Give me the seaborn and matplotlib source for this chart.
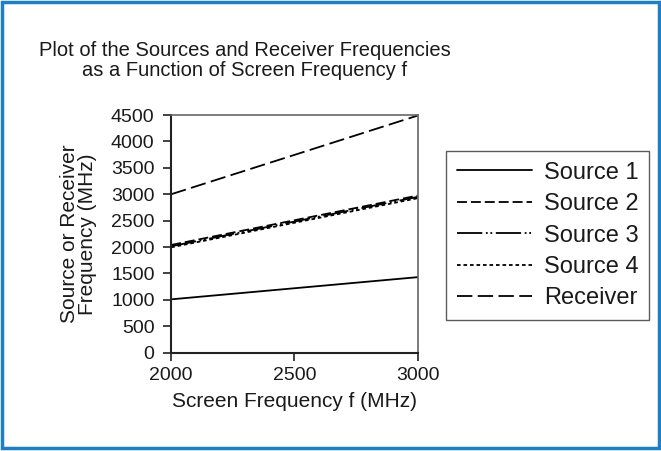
"""Sources and receiver frequencies vs screen frequency."""

import matplotlib
matplotlib.use("Agg")
import matplotlib.pyplot as plt
from matplotlib.patches import Rectangle
import seaborn as sns
import pandas as pd

screen_freq = [2000, 3000]
source_1 = [1010, 1430]
source_2 = [2040, 2975]
source_3 = [2015, 2950]
source_4 = [1995, 2925]
receiver = [3000, 4490]

series_names = ["Source 1", "Source 2", "Source 3", "Source 4", "Receiver"]
series_values = [source_1, source_2, source_3, source_4, receiver]

y_ticks = list(range(0, 4501, 500))
x_ticks = [2000, 2500, 3000]

sns.set_theme(style="white")
plt.rcParams["font.family"] = ["Liberation Sans", "DejaVu Sans"]
plt.rcParams["text.color"] = "#1a1a1a"
plt.rcParams["axes.labelcolor"] = "#1a1a1a"

# long-form table for seaborn
rows = []
for name, vals in zip(series_names, series_values):
    for f, v in zip(screen_freq, vals):
        rows.append({"f": f, "value": v, "series": name})
df = pd.DataFrame(rows)

dash_map = {
    "Source 1": "",
    "Source 2": (5.5, 2.2),
    "Source 3": (14, 2, 1, 1.5, 1, 2),
    "Source 4": (2, 1.6),
    "Receiver": (8.5, 3),
}

fig = plt.figure(figsize=(6.61, 4.51), dpi=100)
ax = fig.add_axes([0.259, 0.218, 0.373, 0.527])

sns.lineplot(
    data=df, x="f", y="value", style="series", dashes=dash_map,
    color="black", linewidth=1.3, ax=ax, legend=True,
)

ax.set_xlim(2000, 3000)
ax.set_ylim(0, 4500)
ax.set_xticks(x_ticks)
ax.set_yticks(y_ticks)
ax.tick_params(axis="both", direction="out", length=6, width=1.2,
               colors="#222222", labelsize=14, left=True, bottom=True,
               labelcolor="#1a1a1a")
ax.tick_params(axis="y", pad=6)
ax.tick_params(axis="x", pad=4)
for spine in ax.spines.values():
    spine.set_color("#666666")
    spine.set_linewidth(1.2)
ax.spines["left"].set_color("#222222")
ax.spines["bottom"].set_color("#222222")
ax.spines["left"].set_linewidth(1.5)
ax.spines["bottom"].set_linewidth(1.5)

ax.set_xlabel("Screen Frequency f (MHz)", fontsize=15, labelpad=6)
ax.set_ylabel("Source or Receiver\nFrequency (MHz)", fontsize=15,
              labelpad=10, linespacing=0.95)

fig.text(0.37, 0.866, "Plot of the Sources and Receiver Frequencies\n"
         "as a Function of Screen Frequency f",
         ha="center", va="center", fontsize=14.5, linespacing=1.05)

handles, labels = ax.get_legend_handles_labels()
leg = ax.legend(handles, labels, loc="upper left",
                bbox_to_anchor=(446 / 661, 1 - 151 / 451),
                bbox_transform=fig.transFigure, borderaxespad=0,
                fontsize=17, frameon=True, fancybox=False, handlelength=3.2,
                handletextpad=0.5, labelspacing=0.4, borderpad=0.45)
leg.get_frame().set_edgecolor("#333333")
leg.get_frame().set_linewidth(1.0)
for line in leg.get_lines():
    line.set_linewidth(1.3)

# blue outer border
fig.patches.append(Rectangle((0.003, 0.006), 0.994, 0.99, transform=fig.transFigure,
                             fill=False, edgecolor="#1f7fc4", linewidth=2.5))

fig.savefig("out.png", dpi=100)
